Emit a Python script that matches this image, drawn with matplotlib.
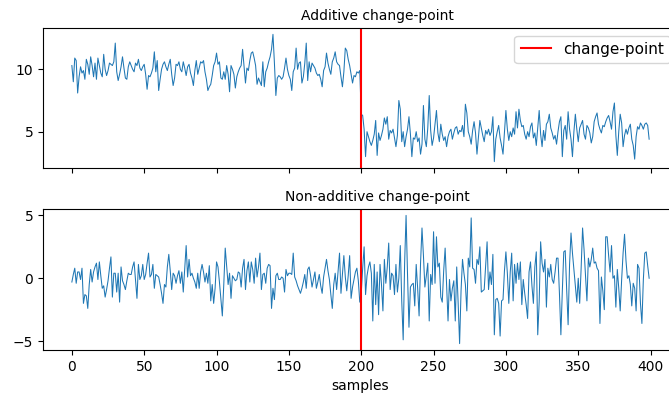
import numpy as np
import matplotlib
matplotlib.use("Agg")
import matplotlib.pyplot as plt

# values (400 samples each)
additive = [
    10.3, 9.0, 10.9, 10.7, 8.1, 9.4, 10.2, 9.7, 9.9, 9.2, 10.8, 10.4, 9.6, 11.0, 10.3, 9.4, 10.5, 9.2, 10.9, 10.3,
    9.7, 9.4, 11.2, 10.0, 9.5, 9.9, 10.5, 10.4, 10.3, 10.6, 12.1, 9.8, 9.1, 9.6, 10.2, 11.0, 10.1, 9.3, 9.2, 10.2,
    10.6, 10.3, 10.0, 9.8, 10.5, 10.3, 10.8, 10.1, 9.9, 10.2, 10.4, 9.6, 8.4, 9.5, 9.4, 9.7, 10.1, 11.4, 9.8, 10.7,
    8.3, 9.2, 10.0, 10.4, 10.6, 10.2, 9.9, 10.4, 10.8, 9.6, 8.7, 9.3, 10.4, 10.3, 10.6, 10.0, 9.8, 10.6, 10.1, 9.5,
    10.2, 10.4, 9.7, 9.3, 8.7, 9.9, 10.7, 9.6, 10.1, 10.6, 10.5, 10.7, 9.8, 9.2, 8.3, 8.6, 8.8, 9.5, 10.3, 10.6,
    11.3, 10.4, 10.6, 9.3, 9.2, 9.8, 9.2, 10.3, 9.6, 8.2, 10.3, 10.0, 9.6, 8.5, 9.4, 9.8, 10.1, 10.3, 11.6, 10.2,
    8.9, 10.1, 9.9, 10.7, 11.3, 11.4, 10.9, 10.3, 8.8, 9.3, 9.0, 8.7, 10.6, 8.6, 9.8, 10.1, 10.6, 11.0, 11.6, 12.8,
    10.5, 7.9, 9.3, 9.5, 9.4, 9.2, 9.4, 10.1, 10.9, 10.0, 9.5, 9.2, 8.3, 9.8, 10.1, 11.7, 10.0, 10.5, 10.6, 8.9,
    9.4, 10.5, 12.1, 9.1, 10.6, 9.8, 10.5, 10.3, 10.1, 9.7, 9.5, 9.6, 9.2, 8.6, 9.9, 10.2, 11.3, 10.5, 10.0, 9.6,
    10.6, 10.9, 11.4, 10.6, 10.4, 10.3, 9.4, 8.6, 9.8, 11.7, 11.5, 10.8, 10.3, 9.6, 8.9, 9.5, 9.4, 9.8, 9.7, 9.9,
    6.4, 6.3, 5.2, 3.0, 5.0, 4.6, 4.2, 3.9, 4.3, 4.8, 5.9, 3.1, 4.9, 4.3, 4.7, 5.2, 6.1, 5.6, 6.2, 4.4,
    5.1, 4.9, 5.2, 4.5, 3.8, 4.7, 7.5, 6.8, 4.2, 5.0, 3.8, 4.6, 5.2, 6.2, 4.8, 3.0, 4.5, 4.4, 5.0, 4.2,
    4.5, 3.2, 4.0, 7.1, 4.4, 3.8, 5.3, 7.9, 5.1, 3.9, 4.5, 5.6, 6.7, 4.9, 4.2, 5.6, 4.8, 4.3, 4.6, 3.8,
    4.6, 5.0, 5.2, 4.4, 4.9, 5.3, 5.4, 4.8, 5.1, 5.0, 5.5, 4.6, 7.2, 6.5, 5.0, 4.6, 4.0, 5.1, 5.8, 4.9,
    3.2, 4.5, 5.9, 5.3, 4.7, 4.2, 5.1, 4.8, 5.2, 4.7, 5.0, 6.2, 2.6, 4.4, 5.0, 5.5, 4.5, 3.9, 3.2, 5.0,
    6.7, 5.2, 4.3, 5.0, 4.6, 5.3, 4.8, 6.6, 5.3, 6.8, 5.9, 5.4, 5.5, 4.8, 4.4, 5.0, 4.6, 5.4, 5.7, 4.5,
    4.9, 3.9, 5.3, 6.7, 4.8, 3.8, 5.1, 4.3, 5.6, 5.8, 6.4, 5.3, 4.9, 4.4, 4.7, 4.0, 5.0, 5.8, 6.2, 3.0,
    5.1, 5.5, 4.4, 6.6, 5.2, 4.4, 3.0, 5.0, 6.4, 5.2, 4.2, 5.3, 5.6, 5.9, 4.8, 4.4, 5.5, 5.3, 4.9, 4.1,
    4.6, 5.8, 6.2, 6.5, 5.6, 5.2, 4.9, 5.5, 5.4, 5.8, 6.1, 6.3, 5.8, 5.2, 6.6, 7.3, 4.7, 3.1, 5.0, 6.4,
    5.7, 3.8, 4.7, 5.2, 4.8, 5.3, 5.6, 4.4, 3.9, 2.8, 4.6, 5.4, 5.2, 5.7, 5.5, 5.2, 5.6, 5.7, 5.5, 4.4,
]

non_additive = [
    -0.3, 0.3, 0.8, -0.4, 0.5, 0.5, -0.1, 0.8, -2.0, -1.3, -1.4, -2.4, -0.5, 0.7, -0.3, 0.5, 0.9, 1.2, -0.1, 1.3,
    0.2, -0.8, -0.6, -1.5, -0.9, -0.2, 0.8, 1.7, -1.5, 0.4, 0.4, -1.1, 0.4, -1.9, 0.9, -0.2, -0.5, -0.9, -0.2, 0.4,
    0.3, 0.3, 0.9, 1.3, -0.1, -1.6, 1.1, -0.1, 0.2, 1.1, -0.1, 0.3, 1.2, 2.0, 0.1, 0.3, 1.1, -0.8, 0.3, 0.2,
    0.1, -0.5, -1.2, -2.0, -0.5, -0.7, 0.9, 1.9, 0.6, -0.9, 0.4, 0.2, -0.4, 0.2, 0.6, -0.4, 0.5, -1.1, 0.7, 2.6,
    0.1, 1.5, 0.2, 0.4, 0.0, -0.3, -0.8, 0.4, -0.8, 0.5, 1.1, 0.5, -0.3, 0.4, -0.4, 1.0, -1.8, -0.5, -2.0, -0.8,
    1.3, 0.9, -0.3, -1.6, -3.0, -0.5, 2.4, 0.9, -0.5, 0.4, -1.6, 0.2, 0.0, -0.2, -0.1, 0.5, 0.4, -0.7, 0.8, 1.5,
    -0.9, 0.6, 1.3, -0.3, 1.3, 0.7, -0.4, 1.6, 0.1, 0.9, 2.0, -0.9, 0.3, 0.4, -0.4, 0.8, 1.1, 1.0, -2.4, -0.8,
    -1.7, 0.2, 0.4, -0.1, -0.1, 0.1, 0.0, -1.1, 0.7, 0.2, 0.4, 0.4, 0.3, 2.0, 0.1, -0.2, -0.6, -0.9, -1.2, -0.8,
    -0.3, 0.3, -0.8, 0.7, 0.9, 0.2, -0.7, -0.1, 0.5, -0.8, -0.3, 0.3, -0.6, -1.2, 0.1, 0.8, 1.5, 0.6, -0.1, -1.3,
    -2.4, -0.5, 0.4, -0.9, 0.6, 2.0, -1.2, 0.3, 1.8, 0.1, -1.0, 0.2, 1.8, -1.6, -0.7, -0.1, 0.5, 0.8, -0.2, -1.9,
    -1.2, 0.8, 2.5, -1.3, 0.2, 0.9, 1.3, 0.4, -3.4, 1.1, -2.1, 0.5, -2.9, 1.1, -0.5, -2.6, 1.5, -0.4, 0.9, 2.8,
    -0.9, 0.4, 0.2, -1.3, 1.1, -1.1, 0.0, 2.6, -1.8, -4.9, 1.2, 5.0, 0.3, -3.9, -0.7, -0.5, -0.4, -2.2, 1.1, -0.8,
    -3.0, 1.2, 4.0, 1.8, -0.7, 0.2, 1.2, -3.4, 0.3, -0.5, 3.7, -0.4, 3.3, 0.9, 1.2, -1.5, -1.9, 0.6, 2.4, -0.6,
    -3.4, -0.1, -1.8, -0.8, -0.2, -3.4, 0.9, -2.0, -5.2, -1.0, 1.5, 0.4, -0.5, -2.6, 1.6, 0.9, 4.8, 0.8, 0.7, -0.4,
    1.5, 1.1, 2.5, -1.1, -1.0, -0.9, 1.0, 2.9, -0.9, 0.5, -0.5, 1.9, -4.5, -1.7, -1.6, -2.0, -4.6, -1.8, -1.7, 0.6,
    2.1, 0.4, -2.0, 0.5, 2.0, -1.8, 1.1, -0.4, 1.2, -0.1, 1.3, -2.1, -0.1, -1.2, -2.1, -3.2, 0.5, 1.3, -0.6, -2.0,
    0.9, 2.1, -4.5, -1.9, 2.9, 1.2, 0.5, 1.5, -2.3, 0.8, 0.1, 1.1, -0.1, -0.4, 0.5, 1.6, 1.6, -1.2, -4.5, -1.0,
    2.1, 2.2, -0.9, -3.7, 1.1, 3.6, 2.0, 0.7, -0.6, -1.9, 0.0, -2.0, 0.8, 4.0, 2.3, 0.2, -1.8, 1.6, 0.9, 1.5,
    2.4, 1.2, 1.3, 0.8, 0.6, -3.6, 0.1, -1.0, -2.5, 3.3, 3.3, 1.8, 0.5, 2.6, 0.0, 0.2, -2.3, 0.7, -0.8, -2.6,
    -0.1, 2.0, 3.5, 1.4, 0.0, 0.2, -0.5, -2.2, -0.4, -0.8, -2.6, 1.1, 0.8, -2.0, -3.6, -0.1, 2.0, 2.1, 1.0, 0.0,
]

change_point = 200
top_yticks = [5, 10]
bottom_yticks = [-5, 0, 5]

plt.rcParams['font.size'] = 10

fig, (ax1, ax2) = plt.subplots(2, 1, sharex=True, figsize=(6.69, 4.05), dpi=100)

ax1.plot(np.arange(len(additive)), additive, color='C0', linewidth=0.75)
ax1.axvline(change_point, color='red', linewidth=1.5, label='change-point')
ax1.set_title("Additive change-point", fontsize=10, x=0.527)
ax1.set_yticks(top_yticks)
ax1.legend(loc='upper right', fontsize=11)

ax2.plot(np.arange(len(non_additive)), non_additive, color='C0', linewidth=0.75)
ax2.axvline(change_point, color='red', linewidth=1.5)
ax2.set_title("Non-additive change-point", fontsize=10, x=0.527)
ax2.set_yticks(bottom_yticks)
ax2.set_xlabel("samples")

# the original figure is clipped on the right side
W, H = 669.0, 405.0
ax1.set_position([43 / W, 1 - 168 / H, 635 / W, 140 / H])
ax2.set_position([43 / W, 1 - 350 / H, 635 / W, 141 / H])

fig.savefig("out.png", dpi=100)
